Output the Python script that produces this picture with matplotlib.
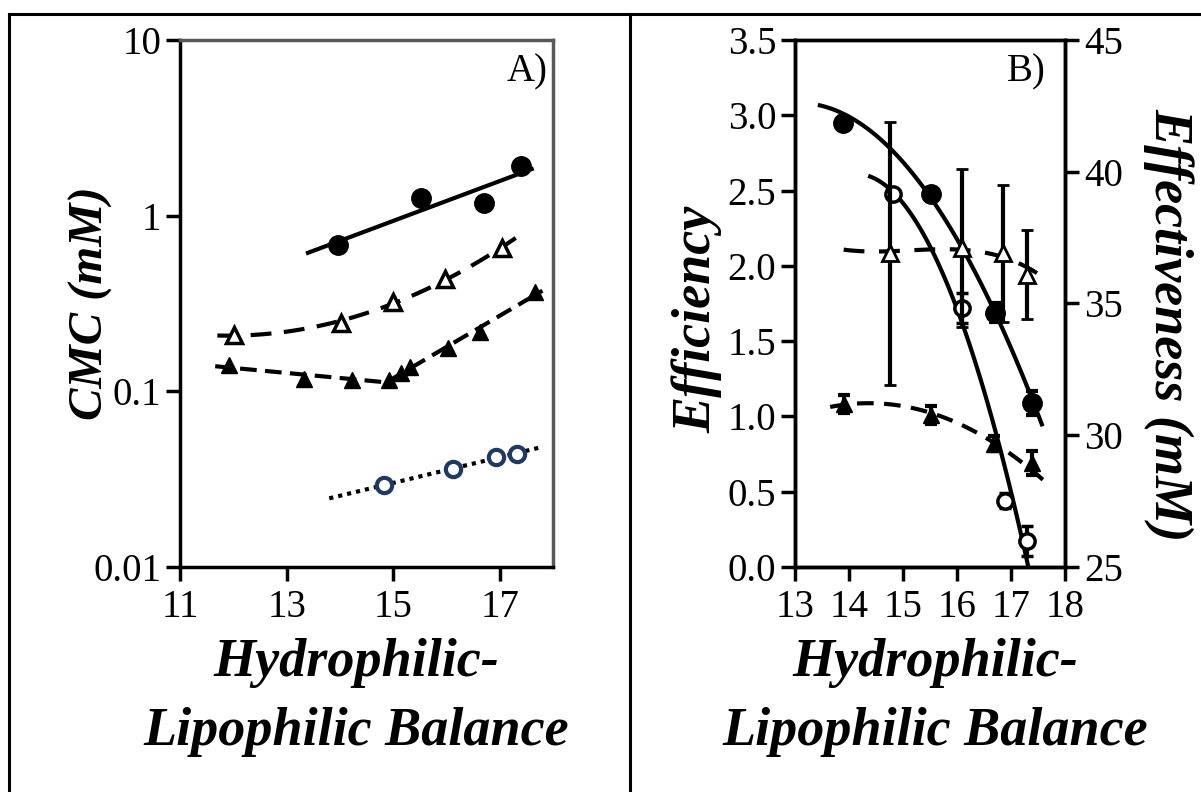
import numpy as np
import matplotlib
matplotlib.use("Agg")
import matplotlib.pyplot as plt
from matplotlib.lines import Line2D

plt.rcParams['font.family'] = ['Liberation Serif', 'DejaVu Serif']

# ---- Panel A: CMC vs HLB ----
hlb_a_circ = [13.96, 15.53, 16.70, 17.40]
cmc_a_circ = [0.68, 1.26, 1.18, 1.92]

hlb_a_otri = [12.02, 14.02, 15.00, 15.98, 17.04]
cmc_a_otri = [0.209, 0.245, 0.323, 0.436, 0.655]

hlb_a_ftri = [11.91, 13.33, 14.23, 14.92, 15.15, 15.32, 16.02, 16.63, 17.66]
cmc_a_ftri = [0.141, 0.118, 0.116, 0.116, 0.127, 0.138, 0.177, 0.218, 0.368]

hlb_a_ocirc = [14.83, 16.13, 16.92, 17.32]
cmc_a_ocirc = [0.0293, 0.0361, 0.0423, 0.0441]

# ---- Panel B: efficiency / effectiveness vs HLB ----
hlb_b_circ = [13.89, 15.52, 16.70, 17.39]
eff_b_circ = [2.95, 2.48, 1.69, 1.09]
err_b_circ = [0.04, 0.04, 0.06, 0.08]

hlb_b_ocirc = [14.81, 16.10, 16.88, 17.30]
eff_b_ocirc = [2.48, 1.72, 0.44, 0.17]
err_b_ocirc = [0.0, 0.10, 0.05, 0.10]

hlb_b_ftri = [13.91, 15.52, 16.69, 17.39]
eff_b_ftri = [1.08, 1.01, 0.82, 0.69]
err_b_ftri = [0.06, 0.06, 0.05, 0.08]

hlb_b_otri = [14.75, 16.10, 16.85, 17.30]
effv_b_otri = [36.9, 37.1, 36.9, 36.1]
err_b_otri = [5.0, 3.0, 2.6, 1.7]

# trend lines in panel B
trend_circ_x = [13.46, 14.5, 15.5, 16.5, 17.57]
trend_circ_y = [3.08, 2.83, 2.48, 1.85, 0.94]
trend_ocirc_x = [14.39, 14.82, 15.69, 16.12, 16.55, 16.80, 17.20, 17.32]
trend_ocirc_y = [2.64, 2.41, 1.99, 1.66, 1.09, 0.755, 0.20, 0.0]
trend_ftri_x = [13.65, 14.5, 15.0, 15.5, 15.87, 16.33, 16.73, 17.17, 17.72]
trend_ftri_y = [1.076, 1.069, 1.06, 1.02, 0.98, 0.92, 0.82, 0.70, 0.53]
trend_otri_x = [13.9, 14.75, 15.3, 16.12, 16.92, 17.63]
trend_otri_y = [37.03, 37.03, 37.02, 36.97, 36.78, 35.92]

fig = plt.figure(figsize=(12.01, 7.92), dpi=100)

# table-like border
for xs, ys in [([0.0075, 1.0], [0.9823, 0.9823]),
               ([0.0075, 0.0075], [0.0, 0.9823]),
               ([0.5246, 0.5246], [0.0, 0.9823])]:
    fig.add_artist(Line2D(xs, ys, color='black', lw=2.2, transform=fig.transFigure))

axA = fig.add_axes([0.1499, 0.2841, 0.3106, 0.6654])
axB = fig.add_axes([0.6620, 0.2841, 0.2248, 0.6654])

lw_fit = 3.0
ms = 14
mew = 2.5
lab = dict(fontsize=39, fontweight='bold', style='italic')

# --- A ---
axA.set_yscale('log')

def logfit(x, y, deg, x0, x1):
    c = np.polyfit(x, np.log10(y), deg)
    xx = np.linspace(x0, x1, 100)
    return xx, 10 ** np.polyval(c, xx)

xx, yy = logfit(hlb_a_circ, cmc_a_circ, 1, 13.4, 17.6)
axA.plot(xx, yy, color='black', lw=lw_fit)
axA.plot(hlb_a_circ, cmc_a_circ, 'o', color='black', ms=ms)

xx, yy = logfit(hlb_a_otri, cmc_a_otri, 2, 11.7, 17.3)
axA.plot(xx, yy, color='black', lw=lw_fit, dashes=(5, 3))
axA.plot(hlb_a_otri, cmc_a_otri, '^', mfc='white', mec='black', mew=mew, ms=11)

# filled triangles: two linear pieces meeting at a kink
c1 = np.polyfit(hlb_a_ftri[:4], np.log10(cmc_a_ftri[:4]), 1)
c2 = np.polyfit(hlb_a_ftri[3:], np.log10(cmc_a_ftri[3:]), 1)
xk = (c2[1] - c1[1]) / (c1[0] - c2[0])
xx1 = np.array([11.66, xk])
xx2 = np.array([xk, 17.8])
axA.plot(np.r_[xx1, xx2], 10 ** np.r_[np.polyval(c1, xx1), np.polyval(c2, xx2)],
         color='black', lw=lw_fit, dashes=(4, 2))
axA.plot(hlb_a_ftri, cmc_a_ftri, '^', color='black', ms=12)

xx, yy = logfit(hlb_a_ocirc, cmc_a_ocirc, 1, 13.8, 17.75)
axA.plot(xx, yy, color='black', lw=lw_fit, dashes=(1, 1.2))
axA.plot(hlb_a_ocirc, cmc_a_ocirc, 'o', mfc='white', mec='#1f3864', mew=3, ms=11)

axA.set_xlim(11, 18)
axA.set_ylim(0.01, 10)
axA.set_xticks([11, 13, 15, 17])
axA.set_yticks([0.01, 0.1, 1, 10])
axA.set_yticklabels(['0.01', '0.1', '1', '10'])
axA.minorticks_off()
axA.text(0.985, 0.975, 'A)', transform=axA.transAxes, ha='right', va='top', fontsize=28)
axA.set_ylabel('CMC (mM)', fontsize=35, fontweight='bold', style='italic')
axA.yaxis.set_label_coords(-0.18, 0.5)
axA.set_xlabel('Hydrophilic-\nLipophilic Balance', linespacing=1.5, **lab)
axA.xaxis.set_label_coords(0.472, -0.135)

# --- B ---
def smooth(x, y, deg, x0, x1):
    c = np.polyfit(x, y, deg)
    xx = np.linspace(x0, x1, 100)
    return xx, np.polyval(c, xx)

xx, yy = smooth(trend_circ_x, trend_circ_y, 2, trend_circ_x[0], trend_circ_x[-1])
axB.plot(xx, yy, color='black', lw=lw_fit)
axB.errorbar(hlb_b_circ, eff_b_circ, yerr=err_b_circ, fmt='o', color='black', ms=ms,
             elinewidth=3, capsize=4, capthick=3)

xx, yy = smooth(trend_ocirc_x, trend_ocirc_y, 2, trend_ocirc_x[0], 17.4)
axB.plot(xx, yy, color='black', lw=lw_fit)
axB.errorbar(hlb_b_ocirc, eff_b_ocirc, yerr=err_b_ocirc, fmt='o', mfc='white', mec='black',
             ecolor='black', mew=mew, ms=11, elinewidth=3, capsize=4, capthick=3)

xx, yy = smooth(trend_ftri_x, trend_ftri_y, 2, trend_ftri_x[0], trend_ftri_x[-1])
axB.plot(xx, yy, color='black', lw=lw_fit, dashes=(4, 2.5))
axB.errorbar(hlb_b_ftri, eff_b_ftri, yerr=err_b_ftri, fmt='^', color='black', ms=12,
             elinewidth=3, capsize=4, capthick=3)

axB.set_xlim(13, 18)
axB.set_ylim(0, 3.5)
axB.set_xticks(range(13, 19))
axB.set_yticks(np.arange(0, 3.51, 0.5))
axB.yaxis.set_major_formatter(matplotlib.ticker.FormatStrFormatter('%.1f'))
axB.text(0.93, 0.975, 'B)', transform=axB.transAxes, ha='right', va='top', fontsize=28)
axB.set_ylabel('Efficiency', **lab)
axB.yaxis.set_label_coords(-0.27, 0.47)
axB.set_xlabel('Hydrophilic-\nLipophilic Balance', linespacing=1.5, **lab)
axB.xaxis.set_label_coords(0.52, -0.135)

axR = axB.twinx()
xx, yy = smooth(trend_otri_x, trend_otri_y, 3, trend_otri_x[0], trend_otri_x[-1])
axR.plot(xx, yy, color='black', lw=lw_fit, dashes=(5, 3.5))
axR.errorbar(hlb_b_otri, effv_b_otri, yerr=err_b_otri, fmt='^', mfc='white', mec='black',
             ecolor='black', mew=2, ms=11, elinewidth=3, capsize=4, capthick=3)
axR.set_ylim(25, 45)
axR.set_yticks([25, 30, 35, 40, 45])
axR.set_ylabel('Effectiveness (mM)', rotation=270, va='bottom', **lab)
axR.yaxis.set_label_coords(1.29, 0.46)

for ax in (axA, axB, axR):
    ax.tick_params(labelsize=28, width=2.5, length=10, direction='out')
    for s in ax.spines.values():
        s.set_linewidth(2.5)
for ax in (axA, axB):
    ax.spines['top'].set_color('#595959')
axA.spines['right'].set_color('#595959')
axA.tick_params(axis='x', pad=6)
axB.tick_params(axis='x', pad=6)

fig.savefig('out.png', dpi=100)
